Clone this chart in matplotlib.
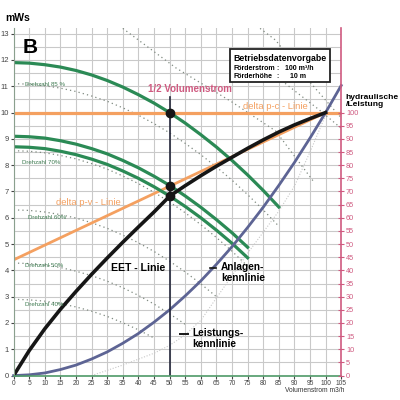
import numpy as np
import matplotlib
matplotlib.use('Agg')
from matplotlib import pyplot as plt
from matplotlib.patches import Rectangle

plt.rcParams['font.family'] = ['Liberation Sans', 'DejaVu Sans']

# volume flow grid (m3/h)
q = [0, 5, 10, 15, 20, 25, 30, 35, 40, 45, 50, 55, 60, 65, 70, 75, 80, 85, 90, 95, 100, 105]

# pump curves (green)
pump_top = [11.9, 11.88, 11.82, 11.73, 11.6, 11.43, 11.22, 10.97, 10.68, 10.36, 10.0,
            9.6, 9.16, 8.69, 8.18, 7.63, 7.04, 6.41]
pump_mid = [9.1, 9.08, 9.03, 8.93, 8.8, 8.63, 8.43, 8.18, 7.9, 7.58, 7.23,
            6.83, 6.4, 5.93, 5.43, 4.88]
pump_low = [8.7, 8.68, 8.63, 8.53, 8.4, 8.23, 8.03, 7.78, 7.5, 7.18, 6.83,
            6.43, 6.0, 5.53, 5.03, 4.48]

# EET line (black)
eet = [0, 0.95, 1.78, 2.52, 3.2, 3.85, 4.47, 5.07, 5.65, 6.22, 6.82,
       7.22, 7.6, 7.96, 8.3, 8.64, 8.96, 9.26, 9.53, 9.77, 10.0]

# system curve (Anlagenkennlinie)
anlage = [0, 0.03, 0.1, 0.23, 0.4, 0.63, 0.9, 1.23, 1.6, 2.03, 2.5,
          3.03, 3.6, 4.23, 4.9, 5.63, 6.4, 7.23, 8.1, 9.03, 10.0, 11.03]

# delta p lines
dpc_x = [0, 105]
dpc_y = [10, 10]
dpv_x = [0, 100]
dpv_y = [4.4, 10]

# speed curves (dotted) - Drehzahl
dz85 = [11.1, 11.08, 11.02, 10.93, 10.8, 10.63, 10.43, 10.18, 9.9, 9.58, 9.23,
        8.83, 8.4, 7.93, 7.43, 6.88, 6.3, 5.68]
dz70 = [8.55, 8.53, 8.47, 8.37, 8.24, 8.06, 7.85, 7.59, 7.3, 6.97, 6.6, 6.19, 5.74, 5.25, 4.73, 4.16]
dz60 = [6.3, 6.28, 6.22, 6.12, 5.99, 5.81, 5.6, 5.34, 5.05, 4.72, 4.35, 3.94, 3.49, 3.0]
dz50 = [4.28, 4.26, 4.2, 4.11, 3.97, 3.8, 3.59, 3.34, 3.05, 2.72, 2.35, 1.95]
dz40 = [2.9, 2.88, 2.83, 2.74, 2.61, 2.45, 2.25, 2.01, 1.74, 1.43]
dz_labels = ['Drehzahl 85 %', 'Drehzahl 70%', 'Drehzahl 60%', 'Drehzahl 50%', 'Drehzahl 40%']

# other dotted lines, upper right
dot_b_x = [35, 52, 70, 84, 96]
dot_b_y = [13.2, 11.7, 10.4, 9.3, 7.4]
dot_c_x = [79, 84, 91, 102, 105]
dot_c_y = [13.2, 12.75, 11.7, 10.2, 9.8]
dot_d_x = [78, 85, 92, 98, 105]
dot_d_y = [11.9, 11.3, 10.65, 10.1, 9.4]

# Leistungskennlinie (faint)
leist_x = [25, 35, 45, 50, 55, 60, 65, 70, 75, 80, 85, 90, 95, 100]
leist_y = [0, 0.4, 0.85, 1.15, 1.55, 2.1, 2.95, 3.8, 4.65, 5.45, 6.25, 7.2, 8.5, 9.9]

# operating points at half flow
op_x = [50, 50, 50]
op_y = [10.0, 7.2, 6.83]

right_ticks = list(range(0, 101, 5))

GREEN = '#2b8a55'
ORANGE = '#f4a060'
BLACK = '#161616'
SLATE = '#5d6494'
PINK = '#cf5a80'
GRID = '#c9c9c9'
DOT = '#7f8a80'

fig = plt.figure(figsize=(4, 4), dpi=100)
ax = fig.add_axes([0.034, 0.061, 0.819, 0.868])
ax.set_xlim(0, 105)
ax.set_ylim(0, 13.2)

ax.set_xticks(range(0, 106, 5))
ax.set_yticks(range(0, 14))
ax.set_yticks(np.arange(0, 13.2, 0.5), minor=True)
ax.grid(True, which='both', color=GRID, lw=0.8)
ax.set_axisbelow(True)
ax.tick_params(axis='y', labelsize=5.5, length=2, pad=1.5, colors='#444444')
ax.tick_params(axis='x', labelsize=4.8, length=2, pad=1.0, colors='#444444')
ax.tick_params(axis='y', which='minor', length=0)
for sp in ['top', 'right']:
    ax.spines[sp].set_visible(False)
ax.spines['left'].set_color('#8aa08e')
ax.spines['bottom'].set_color('#4f9a68')
ax.spines['bottom'].set_linewidth(1.2)

# dotted speed curves
dot_style = dict(color=DOT, lw=0.9, ls=(0, (1, 2.5)))
for vals in [dz85, dz70, dz60, dz50, dz40]:
    ax.plot(q[:len(vals)], vals, **dot_style)
ax.plot(dot_b_x, dot_b_y, **dot_style)
ax.plot(dot_c_x, dot_c_y, **dot_style)
ax.plot(dot_d_x, dot_d_y, **dot_style)
ax.plot(leist_x, leist_y, color='#c8c8c8', lw=0.8, ls=(0, (1, 1.5)))

# labels on speed curves
dz_pos = [(3.7, 11.05), (2.7, 8.09), (4.6, 6.0), (3.7, 4.2), (3.7, 2.69)]
for lab, (xx, yy) in zip(dz_labels, dz_pos):
    ax.text(xx, yy, lab, fontsize=4.4, color='#3d7a50', va='center', ha='left')

# delta p lines
ax.plot(dpc_x, dpc_y, color=ORANGE, lw=2.3, solid_capstyle='butt', clip_on=False)
ax.plot(dpv_x, dpv_y, color=ORANGE, lw=2.0)

# pump curves
for vals in [pump_top, pump_mid, pump_low]:
    ax.plot(q[:len(vals)], vals, color=GREEN, lw=2.3)

# system curve and EET
ax.plot(q, anlage, color=SLATE, lw=2.0, clip_on=False)
ax.plot(q[:len(eet)], eet, color=BLACK, lw=2.6)

# half flow vertical
ax.plot([50, 50], [0, 10.6], color='#23263a', lw=1.2)
ax.plot(op_x, op_y, 'o', color=BLACK, ms=6)

# right axis (hydraulic power)
ax2 = ax.twinx()
ax2.set_ylim(0, 132)
ax2.set_yticks(right_ticks)
ax2.tick_params(axis='y', colors=PINK, labelsize=5.3, length=4, direction='inout', pad=1.5)
for sp in ['top', 'left', 'bottom']:
    ax2.spines[sp].set_visible(False)
ax2.spines['right'].set_color(PINK)
ax2.spines['right'].set_linewidth(1.2)

# texts
fig.text(0.043, 0.955, 'mWs', fontsize=7.5, fontweight='bold', ha='center', va='center')
ax.text(5.3, 12.49, 'B', fontsize=15, fontweight='bold', ha='center', va='center')

ax.add_patch(Rectangle((69.4, 11.17), 32.0, 1.25, facecolor='white', edgecolor='#222222', lw=1.3, zorder=5))
ax.text(70.4, 12.05, 'Betriebsdatenvorgabe', fontsize=6.3, fontweight='bold', va='center', zorder=6)
ax.text(70.4, 11.68, 'Förderstrom', fontsize=5.0, fontweight='bold', va='center', zorder=6)
ax.text(70.4, 11.38, 'Förderhöhe', fontsize=5.0, fontweight='bold', va='center', zorder=6)
ax.text(84.2, 11.68, ':', fontsize=5.0, fontweight='bold', va='center', zorder=6)
ax.text(84.2, 11.38, ':', fontsize=5.0, fontweight='bold', va='center', zorder=6)
ax.text(87.0, 11.68, '100 m³/h', fontsize=5.0, fontweight='bold', va='center', zorder=6)
ax.text(88.6, 11.38, '10 m', fontsize=5.0, fontweight='bold', va='center', zorder=6)

ax.text(56.6, 10.9, '1/2 Volumenstrom', fontsize=7.0, fontweight='bold', color=PINK, ha='center', va='center')
ax.text(73.6, 10.22, 'delta p-c - Linie', fontsize=6.8, color=ORANGE, va='center')
ax.text(13.6, 6.57, 'delta p-v - Linie', fontsize=6.8, color=ORANGE, va='center')
ax.text(31.2, 4.1, 'EET - Linie', fontsize=7.6, fontweight='bold', va='center')
ax.text(66.5, 4.33, 'Anlagen-\nkennlinie', fontsize=7.3, fontweight='bold', va='top', linespacing=1.1)
ax.plot([63.0, 64.8], [4.1, 4.1], color=BLACK, lw=1.2)
ax.text(57.2, 1.8, 'Leistungs-\nkennlinie', fontsize=7.3, fontweight='bold', va='top', linespacing=1.1)
ax.plot([53.4, 56.0], [1.57, 1.57], color=BLACK, lw=1.4)
fig.text(0.864, 0.748, 'hydraulische\n/Leistung', fontsize=6.1, fontweight='bold', va='center',
         ha='left', linespacing=1.1)

fig.text(0.787, 0.025, 'Volumenstrom m3/h', fontsize=4.8, ha='center', va='center', color='#333333')

fig.savefig('out.png', dpi=100, facecolor='white')
